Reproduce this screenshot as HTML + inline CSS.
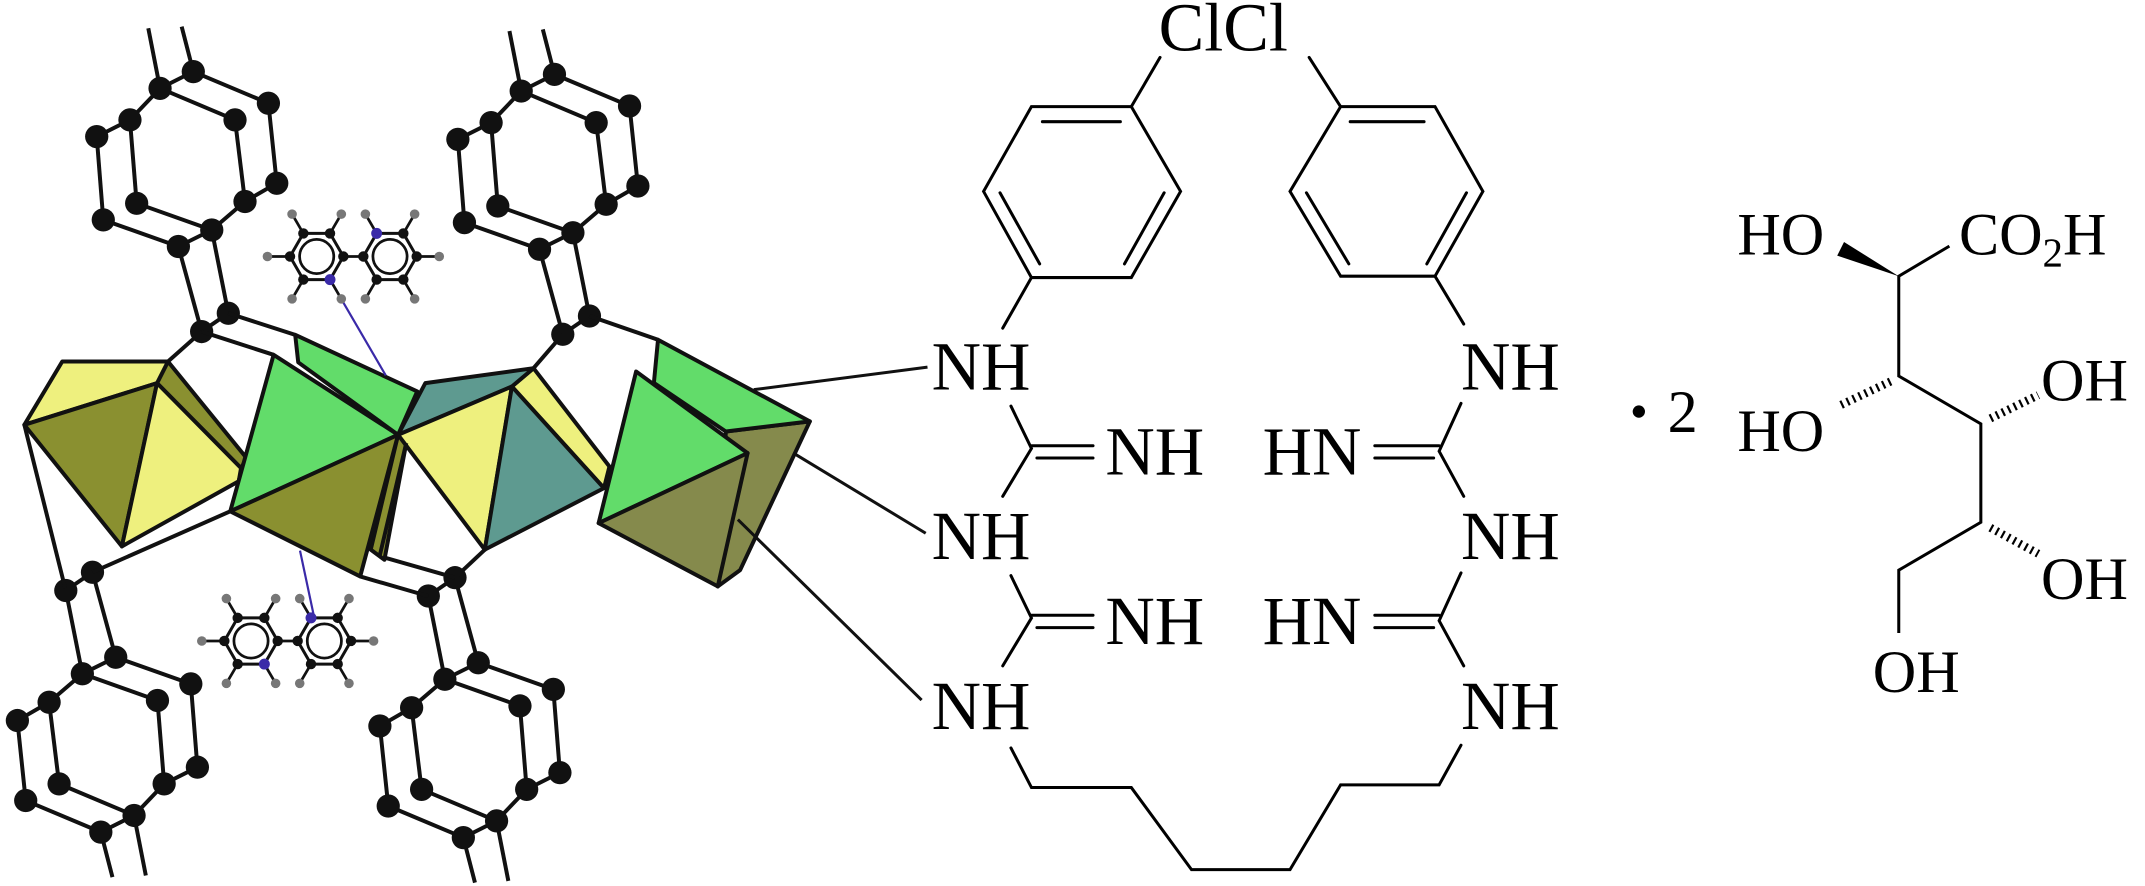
<!DOCTYPE html>
<html><head><meta charset="utf-8"><style>
html,body{margin:0;padding:0;background:#fff;}
svg{display:block;}
text{font-family:"Liberation Serif",serif;fill:#000;}
</style></head><body>
<svg width="2145" height="886" viewBox="0 0 1568 648" preserveAspectRatio="none" xmlns="http://www.w3.org/2000/svg">
<defs>
<g id="ru" stroke="#111" stroke-width="2.9" fill="none">
  <line x1="108.4" y1="20.7" x2="117" y2="64.6"/>
  <line x1="132.8" y1="19.5" x2="141.3" y2="52.4"/>
  <polyline points="141.3,52.4 117,64.6 95,87.7 70.7,99.9"/>
  <line x1="117" y1="64.6" x2="171.8" y2="87.7"/>
  <line x1="141.3" y1="52.4" x2="196.2" y2="75.5"/>
  <line x1="171.8" y1="87.7" x2="179.1" y2="147.4"/>
  <line x1="196.2" y1="75.5" x2="202.3" y2="134"/>
  <polyline points="202.3,134 179.1,147.4 154.8,168.2 130.4,180.3"/>
  <line x1="95" y1="87.7" x2="99.9" y2="148.7"/>
  <line x1="70.7" y1="99.9" x2="75.5" y2="160.8"/>
  <line x1="99.9" y1="148.7" x2="154.8" y2="168.2"/>
  <line x1="75.5" y1="160.8" x2="130.4" y2="180.3"/>
  <line x1="130.4" y1="180.3" x2="147.4" y2="242.5"/>
  <line x1="154.8" y1="168.2" x2="166.9" y2="229.1"/>
  <line x1="166.9" y1="229.1" x2="147.4" y2="242.5"/>
  <g fill="#111" stroke="none">
  <circle cx="117" cy="64.6" r="8.5"/><circle cx="141.3" cy="52.4" r="8.5"/>
  <circle cx="95" cy="87.7" r="8.5"/><circle cx="70.7" cy="99.9" r="8.5"/>
  <circle cx="171.8" cy="87.7" r="8.5"/><circle cx="196.2" cy="75.5" r="8.5"/>
  <circle cx="99.9" cy="148.7" r="8.5"/><circle cx="75.5" cy="160.8" r="8.5"/>
  <circle cx="179.1" cy="147.4" r="8.5"/><circle cx="202.3" cy="134" r="8.5"/>
  <circle cx="154.8" cy="168.2" r="8.5"/><circle cx="130.4" cy="180.3" r="8.5"/>
  <circle cx="166.9" cy="229.1" r="8.5"/><circle cx="147.4" cy="242.5" r="8.5"/>
  </g>
</g>
<g id="py">
  <g stroke="#111" stroke-width="2">
   <line x1="-19.5" y1="0" x2="-36" y2="0"/>
   <line x1="-9.75" y1="-16.9" x2="-18" y2="-31"/>
   <line x1="9.75" y1="-16.9" x2="18" y2="-31"/>
   <line x1="-9.75" y1="16.9" x2="-18" y2="31"/>
   <line x1="9.75" y1="16.9" x2="18" y2="31"/>
  </g>
  <polygon points="19.5,0 9.75,16.9 -9.75,16.9 -19.5,0 -9.75,-16.9 9.75,-16.9" fill="none" stroke="#111" stroke-width="2.2"/>
  <circle r="12.5" fill="none" stroke="#111" stroke-width="2"/>
  <g fill="#777"><circle cx="-36" cy="0" r="3.5"/><circle cx="-18" cy="-31" r="3.5"/><circle cx="18" cy="-31" r="3.5"/><circle cx="-18" cy="31" r="3.5"/><circle cx="18" cy="31" r="3.5"/></g>
  <g fill="#111"><circle cx="19.5" cy="0" r="3.8"/><circle cx="9.75" cy="16.9" r="3.8"/><circle cx="-9.75" cy="16.9" r="3.8"/><circle cx="-19.5" cy="0" r="3.8"/><circle cx="-9.75" cy="-16.9" r="3.8"/><circle cx="9.75" cy="-16.9" r="3.8"/></g>
</g>
<g id="bpy">
  <line x1="19.5" y1="0" x2="34.1" y2="0" stroke="#111" stroke-width="2"/>
  <use href="#py"/>
  <use href="#py" transform="translate(53.6,0) scale(-1,1)"/>
  <circle cx="9.75" cy="16.9" r="4" fill="#3a2aa8"/>
  <circle cx="43.85" cy="-16.9" r="4" fill="#3a2aa8"/>
</g>
</defs>

<!-- ring units -->
<use href="#ru"/>
<use href="#ru" transform="translate(264,2)"/>
<use href="#ru" transform="rotate(180,107.5,330.5)"/>
<use href="#ru" transform="rotate(180,372,333.5) translate(264,2)"/>

<!-- framework lines -->
<g stroke="#111" stroke-width="2.9" fill="none">
  <line x1="147.4" y1="242.5" x2="122.8" y2="264.4"/>
  <line x1="147.4" y1="242.5" x2="200" y2="259.5"/>
  <line x1="166.9" y1="229.1" x2="215.8" y2="244.9"/>
  <line x1="411.4" y1="244.5" x2="390" y2="269.3"/>
  <line x1="430.9" y1="231.1" x2="481" y2="248.5"/>
  <line x1="17.8" y1="310.7" x2="47.6" y2="430"/>
  <line x1="67.6" y1="418.5" x2="168.3" y2="374"/>
  <line x1="277.5" y1="406.8" x2="332.6" y2="422.5"/>
  <line x1="263.3" y1="421.6" x2="313" y2="436"/>
  <line x1="332.6" y1="422.5" x2="354.4" y2="402"/>
</g>

<!-- polyhedra -->
<g stroke="#111" stroke-width="2.9" stroke-linejoin="round">
  <polygon points="122.8,264.4 180.2,335 176.2,342.4 114.8,280.2" fill="#8a9030"/>
  <polygon points="17.8,310.7 45.5,264.4 122.8,264.4 114.8,280.2" fill="#eef07e"/>
  <polygon points="17.8,310.7 114.8,280.2 89.1,399.6" fill="#8a9030"/>
  <polygon points="114.8,280.2 176.2,342.4 174.5,352 89.1,399.6" fill="#eef07e"/>
  <polygon points="215.8,244.9 305,286.3 291,318 218,265" fill="#62dc6a"/>
  <polygon points="291,318 297,324 281,409.4 271,402" fill="#8a9030"/>
  <polygon points="200,259.5 291,318 168.3,374" fill="#62dc6a"/>
  <polygon points="168.3,374 291,318 263.3,421.6" fill="#8a9030"/>
  <polygon points="390,269.3 445.5,341.2 441.5,357 374.2,282.7" fill="#eef07e"/>
  <polygon points="310.9,280.2 390,269.3 374.2,282.7 291,318" fill="#5e9a90"/>
  <polygon points="291,318 374.2,282.7 354.4,402" fill="#eef07e"/>
  <polygon points="374.2,282.7 441.5,357 354.4,402" fill="#5e9a90"/>
  <line x1="297" y1="324" x2="277.5" y2="406.8"/>
  <polygon points="530.6,315.6 592,308.2 541,417 524.7,428.9" fill="#858a4c"/>
  <polygon points="481,248.5 592,308.2 530.6,315.6 478,280" fill="#62dc6a"/>
  <polygon points="465,271.7 546.5,331.4 437.6,382.6" fill="#62dc6a"/>
  <polygon points="437.6,382.6 546.5,331.4 524.7,428.9" fill="#858a4c"/>
</g>

<g stroke="#111" stroke-width="2.2">
  <line x1="551" y1="285" x2="678" y2="268.5"/>
  <line x1="581" y1="332" x2="676.7" y2="390"/>
  <line x1="539.4" y1="380" x2="673.7" y2="512"/>
</g>

<g stroke="#3a2aa8" stroke-width="1.6">
  <line x1="241.2" y1="204.5" x2="282" y2="274.6"/>
  <line x1="219.3" y1="402.7" x2="229.8" y2="452.2"/>
</g>
<use href="#bpy" transform="translate(231.5,187.6)"/>
<use href="#bpy" transform="translate(183.5,468.8)"/>

<!-- macrocycle -->
<g stroke="#000" stroke-width="2.2" fill="none" stroke-linecap="round">
  <polygon points="754,78 827,78 863,140 827,203 754,203 719,140"/>
  <line x1="762" y1="89" x2="819" y2="89"/>
  <line x1="731" y1="141" x2="760" y2="193"/>
  <line x1="851" y1="141" x2="822" y2="193"/>
  <line x1="827" y1="78" x2="848" y2="42"/>
  <line x1="754" y1="203" x2="733" y2="240"/>
  <polygon points="980,78 1049,78 1084,140 1049,202 980,202 943,140"/>
  <line x1="987" y1="89" x2="1041" y2="89"/>
  <line x1="955" y1="141" x2="986" y2="193"/>
  <line x1="1072" y1="141" x2="1043" y2="193"/>
  <line x1="980" y1="78" x2="957" y2="42"/>
  <line x1="1049" y1="202" x2="1070" y2="237"/>
  <polyline points="739,297 754,328 733,363"/>
  <line x1="754" y1="326" x2="799" y2="326"/><line x1="758" y1="335" x2="799" y2="335"/>
  <polyline points="739,421 754,452 733,487"/>
  <line x1="754" y1="450" x2="799" y2="450"/><line x1="758" y1="459" x2="799" y2="459"/>
  <polyline points="1068,295 1052,330 1070,363"/>
  <line x1="1005" y1="326" x2="1052" y2="326"/><line x1="1005" y1="335" x2="1048" y2="335"/>
  <polyline points="1068,419 1052,454 1070,487"/>
  <line x1="1005" y1="450" x2="1052" y2="450"/><line x1="1005" y1="459" x2="1048" y2="459"/>
  <polyline points="739,547 754,576 827,576 871,636 943,636 980,574 1052,574 1068,545"/>
</g>
<g font-size="50">
  <text x="847" y="37">ClCl</text>
  <text x="681" y="285">NH</text>
  <text x="681" y="409">NH</text>
  <text x="681" y="533">NH</text>
  <text x="808" y="347">NH</text>
  <text x="808" y="471">NH</text>
  <text x="1068" y="285">NH</text>
  <text x="1068" y="409">NH</text>
  <text x="1068" y="533">NH</text>
  <text x="923" y="347">HN</text>
  <text x="923" y="471">HN</text>
</g>
<circle cx="1198" cy="301" r="4.5" fill="#000"/>
<text x="1219" y="316" font-size="44">2</text>

<g stroke="#000" stroke-width="2.2" fill="none">
  <polyline points="1425,180 1388,202 1388,275 1448,310 1448,382 1388,417 1388,463"/>
  <line x1="1455" y1="306" x2="1490" y2="289" stroke-width="6" stroke-dasharray="1.6 3.2"/>
  <line x1="1382" y1="279" x2="1344" y2="297" stroke-width="6" stroke-dasharray="1.6 3.2"/>
  <line x1="1455" y1="386" x2="1490" y2="405" stroke-width="6" stroke-dasharray="1.6 3.2"/>
</g>
<polygon points="1388,202 1348,177 1343,187" fill="#000"/>
<g font-size="44">
  <text x="1270" y="186">HO</text>
  <text x="1432" y="186">CO<tspan font-size="30" dy="9">2</tspan><tspan dy="-9">H</tspan></text>
  <text x="1270" y="330">HO</text>
  <text x="1492" y="293">OH</text>
  <text x="1492" y="438">OH</text>
  <text x="1369" y="506">OH</text>
</g>
</svg>
</body></html>
